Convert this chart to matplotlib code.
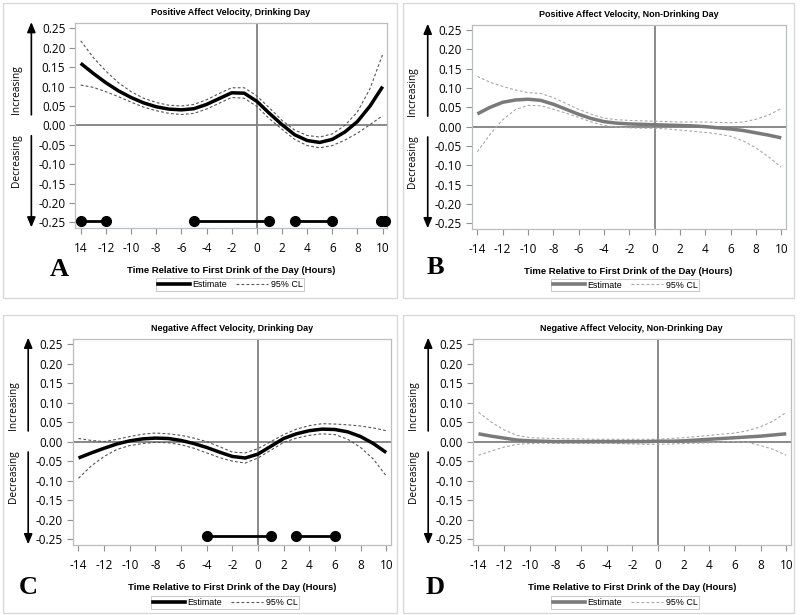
import numpy as np
import matplotlib
matplotlib.use('Agg')
import matplotlib.pyplot as plt
from matplotlib.lines import Line2D
from matplotlib.patches import Rectangle

# hours relative to first drink
hours = [-14, -13, -12, -11, -10, -9, -8, -7, -6, -5, -4, -3, -2, -1,
         0, 1, 2, 3, 4, 5, 6, 7, 8, 9, 10]

# A: positive affect, drinking day
pa_drink_est = [0.160, 0.134, 0.110, 0.089, 0.072, 0.058, 0.048, 0.042, 0.040, 0.043, 0.054, 0.069,
                0.084, 0.083, 0.062, 0.031, 0.002, -0.024, -0.039, -0.044, -0.036, -0.017, 0.010, 0.050, 0.100]
pa_drink_hi = [0.218, 0.175, 0.140, 0.110, 0.087, 0.070, 0.059, 0.052, 0.050, 0.054, 0.066, 0.082,
               0.097, 0.097, 0.076, 0.045, 0.013, -0.012, -0.026, -0.030, -0.022, 0.000, 0.035, 0.095, 0.183]
pa_drink_lo = [0.104, 0.098, 0.087, 0.074, 0.060, 0.047, 0.038, 0.031, 0.028, 0.031, 0.042, 0.057,
               0.072, 0.070, 0.049, 0.017, -0.010, -0.036, -0.052, -0.058, -0.052, -0.038, -0.020, 0.002, 0.025]
pa_drink_sig = [(-14, -12), (-5, 1), (3, 6), (9.85, 10.2)]

# B: positive affect, non-drinking day
pa_non_est = [0.033, 0.050, 0.063, 0.069, 0.071, 0.068, 0.058, 0.045, 0.032, 0.021, 0.013, 0.009,
              0.007, 0.006, 0.005, 0.004, 0.003, 0.002, 0.000, -0.003, -0.006, -0.010, -0.016, -0.022, -0.029]
pa_non_hi = [0.130, 0.115, 0.104, 0.095, 0.088, 0.086, 0.075, 0.060, 0.045, 0.032, 0.022, 0.018,
             0.016, 0.015, 0.014, 0.013, 0.012, 0.012, 0.012, 0.011, 0.010, 0.012, 0.019, 0.030, 0.047]
pa_non_lo = [-0.065, -0.020, 0.018, 0.044, 0.055, 0.054, 0.045, 0.035, 0.024, 0.012, 0.003, -0.001,
             -0.003, -0.004, -0.004, -0.006, -0.009, -0.012, -0.015, -0.019, -0.025, -0.037, -0.055, -0.078, -0.105]

# C: negative affect, drinking day
na_drink_est = [-0.042, -0.029, -0.017, -0.006, 0.002, 0.007, 0.009, 0.008, 0.003, -0.005, -0.015, -0.027,
                -0.038, -0.042, -0.032, -0.012, 0.008, 0.020, 0.028, 0.032, 0.031, 0.025, 0.013, -0.005, -0.028]
na_drink_hi = [0.008, 0.003, 0.000, 0.006, 0.013, 0.019, 0.022, 0.020, 0.016, 0.009, 0.000, -0.013,
               -0.027, -0.029, -0.018, 0.000, 0.018, 0.032, 0.041, 0.046, 0.045, 0.043, 0.040, 0.035, 0.028]
na_drink_lo = [-0.094, -0.062, -0.038, -0.020, -0.010, -0.005, -0.002, -0.003, -0.008, -0.017, -0.029, -0.041,
               -0.050, -0.055, -0.042, -0.022, -0.002, 0.009, 0.016, 0.020, 0.018, 0.006, -0.015, -0.045, -0.088]
na_drink_sig = [(-4, 1), (3, 6)]

# D: negative affect, non-drinking day
na_non_est = [0.020, 0.014, 0.009, 0.004, 0.002, 0.001, 0.000, 0.000, 0.000, 0.000, 0.000, 0.000,
              0.000, 0.000, 0.001, 0.001, 0.002, 0.004, 0.006, 0.008, 0.010, 0.012, 0.014, 0.017, 0.020]
na_non_hi = [0.075, 0.050, 0.030, 0.016, 0.010, 0.009, 0.008, 0.007, 0.007, 0.006, 0.006, 0.006,
             0.006, 0.006, 0.006, 0.008, 0.010, 0.013, 0.016, 0.019, 0.022, 0.028, 0.038, 0.053, 0.075]
na_non_lo = [-0.035, -0.024, -0.014, -0.007, -0.005, -0.004, -0.004, -0.004, -0.004, -0.004, -0.004, -0.005,
             -0.006, -0.007, -0.007, -0.006, -0.005, -0.004, -0.003, -0.001, 0.000, -0.002, -0.010, -0.020, -0.035]

yticks = [-0.25, -0.20, -0.15, -0.10, -0.05, 0.00, 0.05, 0.10, 0.15, 0.20, 0.25]
xticks = list(range(-14, 11, 2))
xlabels_a = ['14'] + [str(t) for t in xticks[1:]]
xlabels = [str(t) for t in xticks]

panels = [
    dict(title='Positive Affect Velocity, Drinking Day', est=pa_drink_est, hi=pa_drink_hi, lo=pa_drink_lo,
         sig=pa_drink_sig, sig_y=-0.247, color='black', cl='#555555', letter='A', xl=xlabels_a,
         rect=[0.0938, 0.629, 0.390, 0.333], letter_xy=(59, 270), leg_y=284.5, leg_x=230),
    dict(title='Positive Affect Velocity, Non-Drinking Day', est=pa_non_est, hi=pa_non_hi, lo=pa_non_lo,
         sig=[], sig_y=0, color='#7a7a7a', cl='#a8a8a8', letter='B', xl=xlabels,
         rect=[0.5896, 0.6276, 0.3925, 0.3317], letter_xy=(435, 268), leg_y=285, leg_x=625),
    dict(title='Negative Affect Velocity, Drinking Day', est=na_drink_est, hi=na_drink_hi, lo=na_drink_lo,
         sig=na_drink_sig, sig_y=-0.242, color='black', cl='#555555', letter='C', xl=xlabels,
         rect=[0.0909, 0.1138, 0.3975, 0.335], letter_xy=(28, 587), leg_y=602.5, leg_x=225),
    dict(title='Negative Affect Velocity, Non-Drinking Day', est=na_non_est, hi=na_non_hi, lo=na_non_lo,
         sig=[], sig_y=0, color='#7a7a7a', cl='#a8a8a8', letter='D', xl=xlabels,
         rect=[0.5909, 0.1138, 0.3975, 0.335], letter_xy=(435, 587), leg_y=602.5, leg_x=625),
]

W, H = 800, 615
fig = plt.figure(figsize=(8, 6.15), dpi=100)

# panel frames
for (x0, y0, x1, y1) in [(3, 3, 397, 298), (403, 3, 794, 298), (3, 315, 397, 613), (403, 315, 794, 613)]:
    fig.add_artist(Rectangle((x0 / W, 1 - y1 / H), (x1 - x0) / W, (y1 - y0) / H,
                             transform=fig.transFigure, fill=False, ec='#d9d9d9', lw=1))

tickfont = 'Open Sans'
boldfont = 'Liberation Sans'

for p in panels:
    ax = fig.add_axes(p['rect'])
    ax.axhline(0, color='#808080', lw=1.3, zorder=1)
    ax.axvline(0, color='#808080', lw=1.3, zorder=1)
    ax.plot(hours, p['hi'], color=p['cl'], lw=0.8, ls=(0, (2.5, 2)))
    ax.plot(hours, p['lo'], color=p['cl'], lw=0.8, ls=(0, (2.5, 2)))
    ax.plot(hours, p['est'], color=p['color'], lw=2.5, solid_capstyle='butt')
    for s in p['sig']:
        ax.plot(s, [p['sig_y'], p['sig_y']], color='black', lw=2, marker='o', ms=7, clip_on=False, zorder=5)

    ax.set_xlim(-14.45, 10.35)
    ax.set_ylim(-0.265, 0.263)
    ax.set_xticks(xticks)
    ax.set_xticklabels(p['xl'], fontsize=8.5, family=tickfont)
    ax.set_yticks(yticks)
    ax.set_yticklabels(['%.2f' % v for v in yticks], fontsize=8.5, family=tickfont)
    ax.tick_params(length=4, color='#909090', pad=3)
    ax.tick_params(axis='x', pad=6)
    for sp in ax.spines.values():
        sp.set_color('#b8bec6')
        sp.set_linewidth(0.9)

    ax.set_title(p['title'], fontsize=6.5, fontweight='bold', family=boldfont, pad=6)
    ax.set_xlabel('Time Relative to First Drink of the Day (Hours)', fontsize=6.8,
                  fontweight='bold', family=boldfont, labelpad=8)

    # increasing / decreasing arrows
    ax.annotate('', xy=(-0.14, 1.02), xytext=(-0.14, 0.54), xycoords='axes fraction',
                arrowprops=dict(arrowstyle='-|>,head_length=0.6,head_width=0.25', color='black', lw=1.2),
                annotation_clip=False)
    ax.annotate('', xy=(-0.14, -0.01), xytext=(-0.14, 0.465), xycoords='axes fraction',
                arrowprops=dict(arrowstyle='-|>,head_length=0.6,head_width=0.25', color='black', lw=1.2),
                annotation_clip=False)
    ax.text(-0.187, 0.675, 'Increasing', rotation=90, transform=ax.transAxes, ha='center', va='center',
            fontsize=7.3, family=tickfont)
    ax.text(-0.187, 0.33, 'Decreasing', rotation=90, transform=ax.transAxes, ha='center', va='center',
            fontsize=7.3, family=tickfont)

    # panel letter
    lx, ly = p['letter_xy']
    fig.text(lx / W, 1 - ly / H, p['letter'], fontsize=19, fontweight='bold', family='Liberation Serif',
             ha='center', va='center')

    handles = [Line2D([], [], color=p['color'], lw=2.6),
               Line2D([], [], color=p['cl'], lw=0.8, ls=(0, (2.5, 2)))]
    leg = fig.legend(handles, ['Estimate', '95% CL'], loc='center', ncol=2,
                     bbox_to_anchor=(p['leg_x'] / W, 1 - p['leg_y'] / H),
                     prop={'family': boldfont, 'size': 6.4}, frameon=True, fancybox=False,
                     handlelength=3.6, handletextpad=0.3, columnspacing=1.0, borderpad=0.2,
                     edgecolor='#c8c8c8', framealpha=1)
    leg.get_frame().set_linewidth(0.7)

fig.savefig('out.png', dpi=100)
